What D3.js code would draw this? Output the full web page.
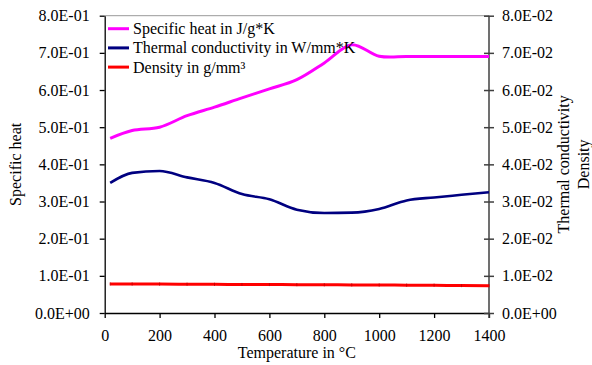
<!DOCTYPE html>
<html>
<head>
<meta charset="utf-8">
<script src="https://cdn.jsdelivr.net/npm/d3@7"></script>
<style>
    body { margin: 0; background: #fff; }
    svg text { font-family: "Liberation Serif", "Times New Roman", serif; fill: #000; }
</style>
</head>
<body>
<div id="chart"></div>
<script>
const temperatures = [20, 100, 200, 300, 400, 500, 600, 700, 800, 900, 1000, 1100, 1200, 1300, 1400]
const specificHeat = [0.470, 0.491, 0.500, 0.531, 0.554, 0.579, 0.603, 0.628, 0.673, 0.722, 0.691, 0.690, 0.690, 0.690, 0.690]
const thermalConductivity = [0.0350, 0.0377, 0.0382, 0.0365, 0.0350, 0.0320, 0.0306, 0.0278, 0.0269, 0.0270, 0.0280, 0.0303, 0.0311, 0.0318, 0.0325]
const density = [0.00782, 0.00780, 0.00778, 0.00775, 0.00772, 0.00768, 0.00765, 0.00762, 0.00758, 0.00756, 0.00753, 0.00750, 0.00748, 0.00737, 0.00736]

const xTicks = [0, 200, 400, 600, 800, 1000, 1200, 1400]
const leftTicks = [0, 0.1, 0.2, 0.3, 0.4, 0.5, 0.6, 0.7, 0.8]
const rightTicks = [0, 0.01, 0.02, 0.03, 0.04, 0.05, 0.06, 0.07, 0.08]

const seriesNames = ["Specific heat in J/g*K", "Thermal conductivity in W/mm*K", "Density in g/mm³"]
const seriesColors = ["#ff00ff", "#000080", "#ff0000"]

const FONT = '"Liberation Serif", "Times New Roman", serif'

const config = {
    width: 592,
    height: 365,
    margin: { top: 15.7, right: 103, bottom: 52, left: 104.7 }
}
const margin = config.margin
const width = config.width - margin.left - margin.right
const height = config.height - margin.top - margin.bottom

// 8.0E-01 style labels
function sci(v) {
    const [m, e] = v.toExponential(1).split("e")
    const n = Math.abs(+e)
    return `${m}E${+e < 0 ? "-" : "+"}${n < 10 ? "0" + n : n}`
}

/* SVG ELEMENT */
const svg = d3.select("#chart")
    .append("svg")
    .attr("width", config.width)
    .attr("height", config.height)
    .append("g")
    .attr("transform", `translate(${margin.left}, ${margin.top})`)

/* SCALES */
const x = d3.scaleLinear().domain([0, 1400]).range([0, width])
const yLeft = d3.scaleLinear().domain([0, 0.8]).range([height, 0])
const yRight = d3.scaleLinear().domain([0, 0.08]).range([height, 0])

/* TOP BORDER */
svg.append("line")
    .attr("x1", 0).attr("x2", width)
    .attr("y1", 0).attr("y2", 0)
    .attr("stroke", "#999")
    .attr("stroke-width", 1)

/* X AXIS */
const x_axis = svg.append("g")
    .attr("transform", `translate(0, ${height})`)
    .call(d3.axisBottom(x).tickValues(xTicks).tickFormat(d3.format("d")).tickSize(5).tickSizeOuter(0).tickPadding(12))

/* LEFT AXIS */
const y_axis = svg.append("g")
    .call(d3.axisLeft(yLeft).tickValues(leftTicks).tickFormat(sci).tickSize(5).tickSizeOuter(0).tickPadding(10))

/* RIGHT AXIS */
const y2_axis = svg.append("g")
    .attr("transform", `translate(${width}, 0)`)
    .call(d3.axisRight(yRight).tickValues(rightTicks).tickFormat(sci).tickSize(5).tickSizeOuter(0).tickPadding(8))
y2_axis.selectAll(".tick line").attr("x1", -5)
y2_axis.select(".domain").attr("d", `M0,0V${height + 5}`)

;[x_axis, y_axis, y2_axis].forEach(ax => {
    ax.attr("font-family", FONT).attr("font-size", 16)
    ax.selectAll("text").style("font-family", FONT).style("font-size", "16px")
})
x_axis.selectAll("line, path").attr("stroke", "#000").attr("stroke-width", 1.3)
y_axis.selectAll("line, path").attr("stroke", "#000").attr("stroke-width", 1.3)
y2_axis.selectAll("line, path").attr("stroke", "#404040").attr("stroke-width", 1.5)

/* AXIS TITLES */
svg.append("text")
    .attr("x", width / 2)
    .attr("y", 358 - margin.top)
    .attr("text-anchor", "middle")
    .style("font-size", "16px")
    .text("Temperature in °C")

svg.append("text")
    .attr("transform", `translate(${21 - margin.left}, ${height / 2}) rotate(-90)`)
    .attr("text-anchor", "middle")
    .style("font-size", "16px")
    .text("Specific heat")

const rightTitle = svg.append("text")
    .attr("transform", `translate(${569 - margin.left}, ${height / 2}) rotate(-90)`)
    .attr("text-anchor", "middle")
    .style("font-size", "16px")
rightTitle.append("tspan").attr("x", 0).attr("y", 0).text("Thermal conductivity")
rightTitle.append("tspan").attr("x", 0).attr("y", 19.7).text("Density")

/* LINES */
const series = [
    { values: specificHeat, scale: yLeft, width: 3, curve: d3.curveCatmullRom.alpha(0.5) },
    { values: thermalConductivity, scale: yRight, width: 2.6, curve: d3.curveMonotoneX },
    { values: density, scale: yRight, width: 3, curve: d3.curveMonotoneX }
]

series.forEach((s, i) => {
    const line = d3.line()
        .x((d, j) => x(temperatures[j]))
        .y(d => s.scale(d))
        .curve(s.curve)
    svg.append("path")
        .datum(s.values)
        .attr("fill", "none")
        .attr("stroke", seriesColors[i])
        .attr("stroke-width", s.width)
        .attr("stroke-linejoin", "round")
        .attr("d", line)
})

// little dash markers that show on the density line
svg.selectAll(".density-mark")
    .data(density)
    .enter()
    .append("line")
    .attr("class", "density-mark")
    .attr("x1", (d, j) => x(temperatures[j]))
    .attr("x2", (d, j) => x(temperatures[j]))
    .attr("y1", d => yRight(d) - 1.5)
    .attr("y2", d => yRight(d) + 1.5)
    .attr("stroke", "#c80000")
    .attr("stroke-width", 1)

/* LEGEND */
const legend = svg.append("g")
    .attr("transform", `translate(${108 - margin.left}, ${28.7 - margin.top})`)

seriesNames.forEach((name, i) => {
    const row = legend.append("g").attr("transform", `translate(0, ${i * 19.2})`)
    row.append("line")
        .attr("x1", 0).attr("x2", 21)
        .attr("y1", 0).attr("y2", 0)
        .attr("stroke", seriesColors[i])
        .attr("stroke-width", 3)
    row.append("text")
        .attr("x", 25)
        .attr("y", 5.5)
        .style("font-size", "16px")
        .text(name)
})
</script>
</body>
</html>
